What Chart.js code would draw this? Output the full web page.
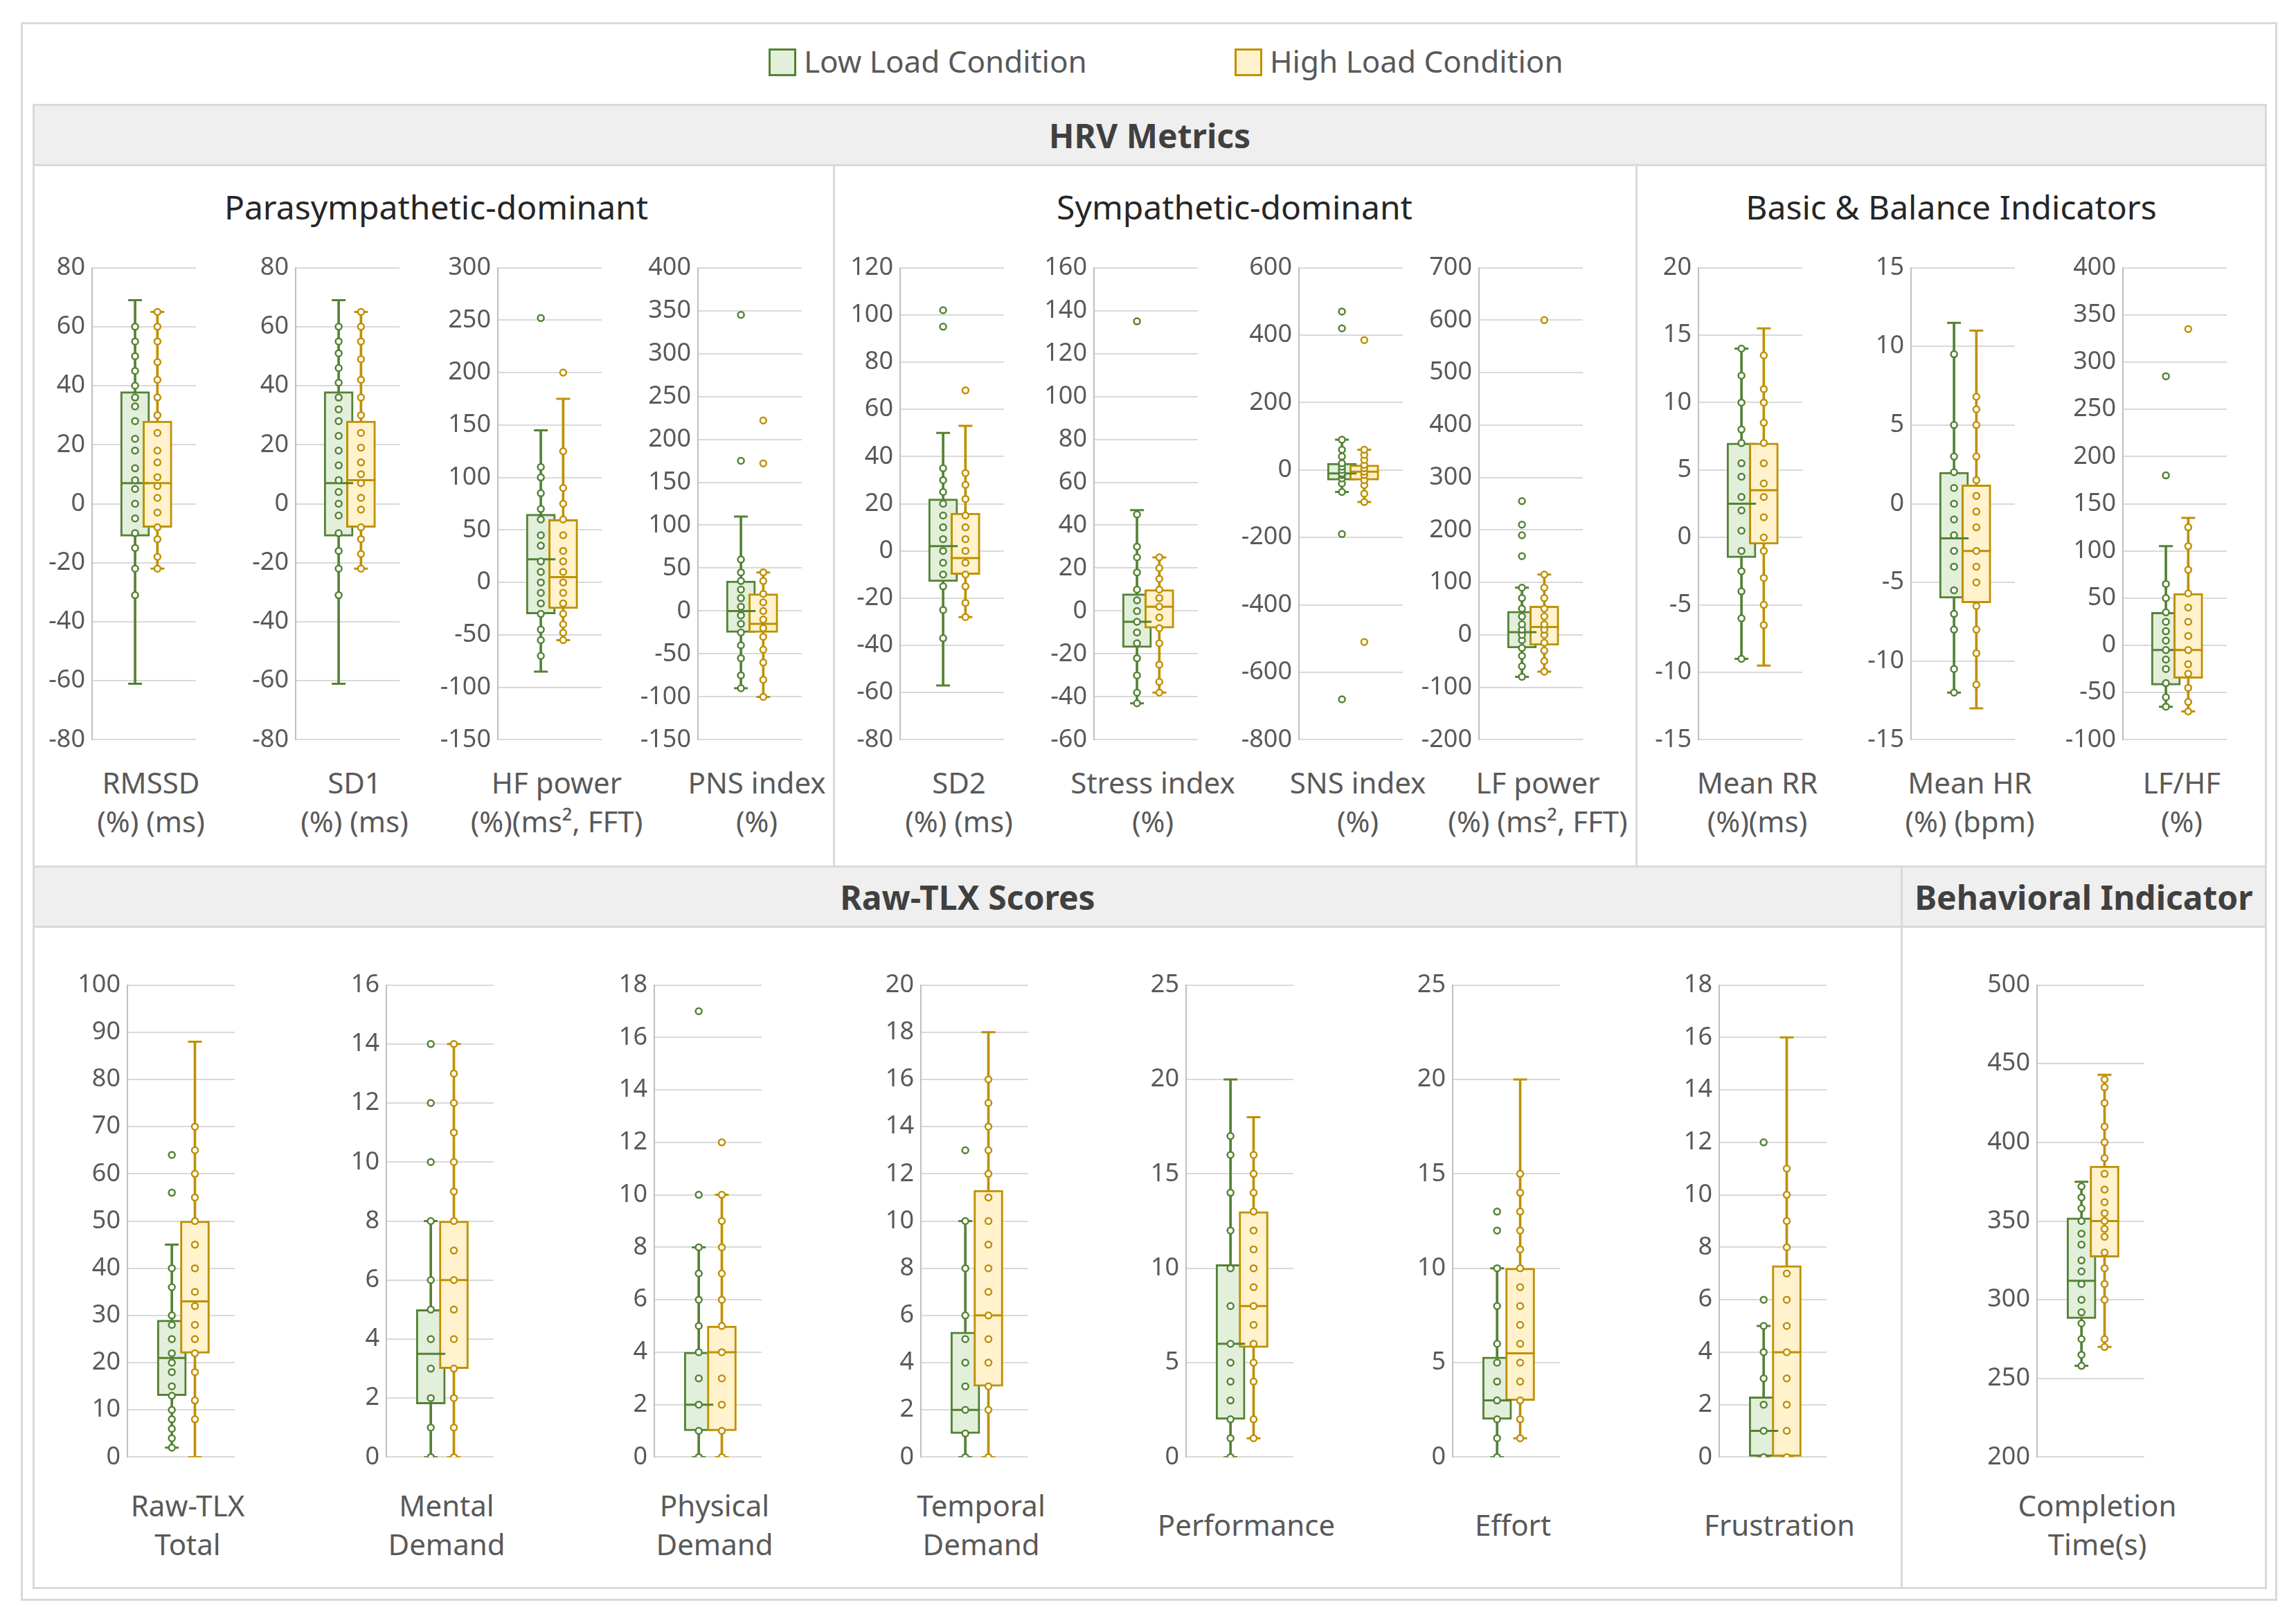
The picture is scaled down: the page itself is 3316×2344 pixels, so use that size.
<!DOCTYPE html>
<html><head><meta charset="utf-8">
<script src="https://cdn.jsdelivr.net/npm/chart.js@4"></script>
<style>
body{margin:0;background:#fff;font-family:"Noto Sans",sans-serif;color:#404040}
#wrap{position:relative;width:3316px;height:2344px;overflow:hidden}
.abs{position:absolute}
.frame{border:3px solid #d9d9d9;box-sizing:border-box}
.hdr{background:#efefef;border:3px solid #d9d9d9;box-sizing:border-box;font-weight:bold;font-size:48px;color:#404040;display:flex;align-items:center;justify-content:center}
.sub{font-size:48px;color:#262626;text-align:center;width:1100px;margin-left:-550px}
.lab{font-size:42px;color:#595959;text-align:center;width:400px;margin-left:-200px;line-height:56px}
.vl{width:3px;background:#d9d9d9}
.sq{width:34px;height:34px;border:3px solid}
.lg{font-size:44px;color:#595959}
</style></head><body>
<div id="wrap"></div>
<script>
// ---- data: [min, q1, median, q3, max] + individual points ----
const rmssdLow = [-61, -11, 7, 38, 69];
const rmssdLowPts = [-31, -22, -15, -10, -5, 0, 5, 8, 12, 18, 22, 28, 33, 36, 40, 45, 50, 55, 60];
const rmssdHigh = [-22, -8, 7, 28, 65];
const rmssdHighPts = [-22, -18, -12, -8, -3, 2, 6, 9, 14, 18, 24, 30, 36, 42, 48, 55, 60, 65];
const sd1Low = [-61, -11, 7, 38, 69];
const sd1LowPts = [-31, -22, -16, -10, -4, 0, 4, 8, 13, 18, 23, 28, 32, 36, 41, 46, 51, 55, 60];
const sd1High = [-22, -8, 8, 28, 65];
const sd1HighPts = [-22, -17, -12, -8, -2, 2, 7, 10, 14, 19, 24, 30, 36, 42, 49, 55, 60, 65];
const hfLow = [-85, -30, 22, 65, 145];
const hfLowPts = [-70, -55, -45, -30, -20, -10, 0, 10, 20, 35, 45, 60, 70, 85, 100, 110, 252];
const hfHigh = [-55, -25, 5, 60, 175];
const hfHighPts = [-55, -48, -40, -30, -20, -10, 0, 10, 20, 30, 45, 60, 75, 90, 125, 200];
const pnsLow = [-90, -25, 0, 35, 110];
const pnsLowPts = [-90, -75, -55, -40, -25, -15, -5, 5, 15, 25, 35, 45, 60, 175, 345];
const pnsHigh = [-100, -25, -15, 20, 45];
const pnsHighPts = [-100, -80, -60, -45, -30, -20, -10, 0, 10, 20, 35, 45, 172, 222];
const sd2Low = [-57, -13, 2, 22, 50];
const sd2LowPts = [-37, -25, -15, -10, -5, 0, 5, 10, 15, 20, 25, 30, 35, 95, 102];
const sd2High = [-28, -10, -3, 16, 53];
const sd2HighPts = [-28, -22, -15, -10, -5, 0, 5, 10, 15, 22, 28, 33, 68];
const stressLow = [-43, -17, -5, 8, 47];
const stressLowPts = [-43, -38, -30, -22, -15, -10, -5, 0, 5, 10, 18, 25, 30, 45, 135];
const stressHigh = [-38, -8, 2, 10, 25];
const stressHighPts = [-38, -33, -25, -15, -8, -3, 2, 6, 10, 15, 20, 25];
const snsLow = [-65, -30, -10, 20, 90];
const snsLowPts = [-65, -40, -25, -15, -10, 0, 10, 20, 40, 60, 90, -190, -680, 420, 470];
const snsHigh = [-95, -30, -5, 15, 60];
const snsHighPts = [-95, -70, -45, -30, -15, -5, 5, 15, 30, 45, 60, 385, -510];
const lfLow = [-80, -25, 5, 45, 90];
const lfLowPts = [-80, -60, -40, -25, -10, 0, 10, 20, 35, 50, 70, 90, 150, 190, 210, 255];
const lfHigh = [-70, -20, 15, 55, 115];
const lfHighPts = [-70, -50, -30, -15, 0, 10, 20, 35, 50, 70, 90, 115, 600];
const rrLow = [-9, -1.5, 2.5, 7, 14];
const rrLowPts = [-9, -6, -4, -2.5, -1, 0.5, 2, 3, 4.5, 5.5, 7, 8, 10, 12, 14];
const rrHigh = [-9.5, -0.5, 3.5, 7, 15.5];
const rrHighPts = [-6.5, -5, -3, -1, 0, 1.5, 3, 4, 5.5, 7, 8.5, 10, 11, 13.5];
const hrLow = [-12, -6, -2.2, 2, 11.5];
const hrLowPts = [-12, -10.5, -8, -7, -5.5, -4, -3, -2, -1, 0, 1, 2, 3, 5, 9.5];
const hrHigh = [-13, -6.3, -3, 1.2, 11];
const hrHighPts = [-11.5, -9.5, -8, -6.5, -5, -4, -3, -1.5, -0.5, 0.5, 1.5, 3, 5, 6, 6.8];
const lfhfLow = [-65, -42, -5, 35, 105];
const lfhfLowPts = [-65, -55, -40, -25, -15, -5, 5, 15, 25, 35, 50, 65, 180, 285];
const lfhfHigh = [-70, -35, -5, 55, 135];
const lfhfHighPts = [-70, -60, -45, -30, -20, -5, 10, 25, 40, 55, 80, 105, 125, 335];
const tlxLow = [2, 13, 21, 29, 45];
const tlxLowPts = [2, 4, 6, 8, 10, 13, 15, 18, 20, 22, 25, 28, 30, 36, 40, 56, 64];
const tlxHigh = [0, 22, 33, 50, 88];
const tlxHighPts = [8, 12, 18, 22, 25, 28, 32, 35, 40, 45, 50, 55, 60, 65, 70];
const mentalLow = [0, 1.8, 3.5, 5, 8];
const mentalLowPts = [0, 1, 2, 3, 4, 5, 6, 8, 10, 12, 14];
const mentalHigh = [0, 3, 6, 8, 14];
const mentalHighPts = [0, 1, 2, 3, 4, 5, 6, 7, 8, 9, 10, 11, 12, 13, 14];
const physLow = [0, 1, 2, 4, 8];
const physLowPts = [0, 1, 2, 3, 4, 5, 6, 7, 8, 10, 17];
const physHigh = [0, 1, 4, 5, 10];
const physHighPts = [0, 1, 2, 3, 4, 5, 6, 7, 8, 9, 10, 12];
const tempLow = [0, 1, 2, 5.3, 10];
const tempLowPts = [0, 1, 2, 3, 4, 5, 6, 8, 10, 13];
const tempHigh = [0, 3, 6, 11.3, 18];
const tempHighPts = [0, 2, 3, 4, 5, 6, 7, 8, 9, 10, 11, 12, 13, 14, 15, 16];
const perfLow = [0, 2, 6, 10.2, 20];
const perfLowPts = [0, 1, 2, 3, 4, 5, 6, 8, 10, 12, 14, 16, 17];
const perfHigh = [1, 5.8, 8, 13, 18];
const perfHighPts = [1, 2, 4, 5, 6, 7, 8, 9, 10, 11, 12, 13, 14, 15, 16];
const effortLow = [0, 2, 3, 5.3, 10];
const effortLowPts = [0, 1, 2, 3, 4, 5, 6, 8, 10, 12, 13];
const effortHigh = [1, 3, 5.5, 10, 20];
const effortHighPts = [1, 2, 3, 4, 5, 6, 7, 8, 9, 10, 11, 12, 13, 14, 15];
const frusLow = [0, 0, 1, 2.3, 5];
const frusLowPts = [0, 1, 2, 3, 4, 5, 6, 12];
const frusHigh = [0, 0, 4, 7.3, 16];
const frusHighPts = [0, 1, 2, 3, 4, 5, 6, 7, 8, 9, 10, 11];
const timeLow = [258, 288, 312, 352, 375];
const timeLowPts = [258, 265, 275, 285, 292, 300, 310, 318, 325, 335, 342, 350, 358, 365, 372];
const timeHigh = [270, 327, 350, 385, 443];
const timeHighPts = [270, 275, 300, 310, 320, 330, 340, 345, 350, 355, 362, 370, 380, 390, 400, 410, 425, 435, 440];

// panels: [label lines, axis min, max, step, low, lowPts, high, highPts, centre x]
const topPanels = [
  [['RMSSD', '(%) (ms)'], -80, 80, 20, rmssdLow, rmssdLowPts, rmssdHigh, rmssdHighPts, 218],
  [['SD1', '(%) (ms)'], -80, 80, 20, sd1Low, sd1LowPts, sd1High, sd1HighPts, 512],
  [['HF power', '(%)(ms², FFT)'], -150, 300, 50, hfLow, hfLowPts, hfHigh, hfHighPts, 804],
  [['PNS index', '(%)'], -150, 400, 50, pnsLow, pnsLowPts, pnsHigh, pnsHighPts, 1093],
  [['SD2', '(%) (ms)'], -80, 120, 20, sd2Low, sd2LowPts, sd2High, sd2HighPts, 1385],
  [['Stress index', '(%)'], -60, 160, 20, stressLow, stressLowPts, stressHigh, stressHighPts, 1665],
  [['SNS index', '(%)'], -800, 600, 200, snsLow, snsLowPts, snsHigh, snsHighPts, 1961],
  [['LF power', '(%) (ms², FFT)'], -200, 700, 100, lfLow, lfLowPts, lfHigh, lfHighPts, 2221],
  [['Mean RR', '(%)(ms)'], -15, 20, 5, rrLow, rrLowPts, rrHigh, rrHighPts, 2538],
  [['Mean HR', '(%) (bpm)'], -15, 15, 5, hrLow, hrLowPts, hrHigh, hrHighPts, 2845],
  [['LF/HF', '(%)'], -100, 400, 50, lfhfLow, lfhfLowPts, lfhfHigh, lfhfHighPts, 3151]
];
const bottomPanels = [
  [['Raw-TLX', 'Total'], 0, 100, 10, tlxLow, tlxLowPts, tlxHigh, tlxHighPts, 271],
  [['Mental', 'Demand'], 0, 16, 2, mentalLow, mentalLowPts, mentalHigh, mentalHighPts, 645],
  [['Physical', 'Demand'], 0, 18, 2, physLow, physLowPts, physHigh, physHighPts, 1032],
  [['Temporal', 'Demand'], 0, 20, 2, tempLow, tempLowPts, tempHigh, tempHighPts, 1417],
  [['Performance'], 0, 25, 5, perfLow, perfLowPts, perfHigh, perfHighPts, 1800],
  [['Effort'], 0, 25, 5, effortLow, effortLowPts, effortHigh, effortHighPts, 2185],
  [['Frustration'], 0, 18, 2, frusLow, frusLowPts, frusHigh, frusHighPts, 2570],
  [['Completion', 'Time(s)'], 200, 500, 50, timeLow, timeLowPts, timeHigh, timeHighPts, 3029]
];

const GREEN = '#548235', GREEN_F = '#e2efda', GOLD = '#bf9000', GOLD_F = '#fff2cc';
const wrap = document.getElementById('wrap');

function el(cls, css, html) {
  const d = document.createElement('div');
  d.className = 'abs ' + cls;
  d.style.cssText = css;
  if (html) d.innerHTML = html;
  wrap.appendChild(d);
  return d;
}

// ---- frame, headers, legend ----
el('frame', 'left:30px;top:32px;width:3259px;height:2280px');
el('frame', 'left:47px;top:150px;width:3227px;height:2145px');
el('hdr', 'left:47px;top:150px;width:3227px;height:90px', 'HRV Metrics');
el('hdr', 'left:47px;top:1250px;width:2701px;height:90px', 'Raw-TLX Scores');
el('hdr', 'left:2745px;top:1250px;width:529px;height:90px', 'Behavioral Indicator');
el('vl', 'left:1203px;top:240px;height:1010px');
el('vl', 'left:2362px;top:240px;height:1010px');
el('vl', 'left:2745px;top:1340px;height:955px');
el('sub', 'left:630px;top:266px', 'Parasympathetic-dominant');
el('sub', 'left:1783px;top:266px', 'Sympathetic-dominant');
el('sub', 'left:2818px;top:266px', 'Basic &amp; Balance Indicators');
el('sq', 'left:1110px;top:70px;border-color:' + GREEN + ';background:' + GREEN_F);
el('lg', 'left:1161px;top:58px', 'Low Load Condition');
el('sq', 'left:1783px;top:70px;border-color:' + GOLD + ';background:' + GOLD_F);
el('lg', 'left:1834px;top:58px', 'High Load Condition');

function drawPanel(p, top, yw, pw, labTop) {
  const [lines, ymin, ymax, step, lo, loPts, hi, hiPts, cx] = p;
  const w = yw + pw + 4, h = 745;
  const box = el('', `left:${cx - yw - pw / 2}px;top:${top}px;width:${w}px;height:${h}px`);
  const cv = document.createElement('canvas');
  cv.width = w; cv.height = h;
  box.appendChild(cv);
  const lt = lines.length === 1 ? labTop + 28 : labTop;
  el('lab', `left:${cx}px;top:${lt}px`, lines.join('<br>'));

  const whisk = s => s.map((st, i) => ({ x: i, y: [st[0], st[4]] }));
  const stats = [lo, hi];
  new Chart(cv, {
    data: {
      datasets: [
        { type: 'bar', order: 4, grouped: false, barThickness: 3,
          data: whisk(stats), backgroundColor: [GREEN, GOLD] },
        { type: 'bar', order: 3, grouped: false, barThickness: 42, borderWidth: 3, borderSkipped: false,
          data: stats.map((st, i) => ({ x: i, y: [st[1], st[3]] })),
          backgroundColor: [GREEN_F, GOLD_F], borderColor: [GREEN, GOLD] },
        { type: 'scatter', order: 2, pointStyle: 'line', pointRadius: 10, borderWidth: 3,
          data: stats.flatMap((st, i) => [{ x: i, y: st[0] }, { x: i, y: st[4] }]),
          borderColor: [GREEN, GREEN, GOLD, GOLD] },
        { type: 'scatter', order: 1, pointStyle: 'line', pointRadius: 21, borderWidth: 3,
          data: stats.map((st, i) => ({ x: i, y: st[2] })), borderColor: [GREEN, GOLD] },
        { type: 'scatter', order: 0, pointRadius: 4.5, borderWidth: 2.5, backgroundColor: '#fff',
          borderColor: GREEN, data: loPts.map(v => ({ x: 0, y: v })) },
        { type: 'scatter', order: 0, pointRadius: 4.5, borderWidth: 2.5, backgroundColor: '#fff',
          borderColor: GOLD, data: hiPts.map(v => ({ x: 1, y: v })) }
      ]
    },
    options: {
      responsive: false, animation: false, devicePixelRatio: 1,
      layout: { padding: { top: 26, bottom: 23, right: 4 } },
      plugins: { legend: { display: false }, tooltip: { enabled: false } },
      scales: {
        x: { type: 'linear', min: -1.15, max: 1.95, display: false },
        y: {
          min: ymin, max: ymax,
          afterFit: s => { s.width = yw; },
          ticks: { stepSize: step, color: '#595959', font: { family: 'Noto Sans', size: 36 }, padding: 10 },
          grid: { color: '#d9d9d9', lineWidth: 2, drawTicks: false },
          border: { color: '#bfbfbf', width: 2 }
        }
      }
    }
  });
}

topPanels.forEach(p => drawPanel(p, 355, 90, 170, 1102));
bottomPanels.forEach(p => drawPanel(p, 1391, 100, 175, 2146));
</script>
</body></html>
